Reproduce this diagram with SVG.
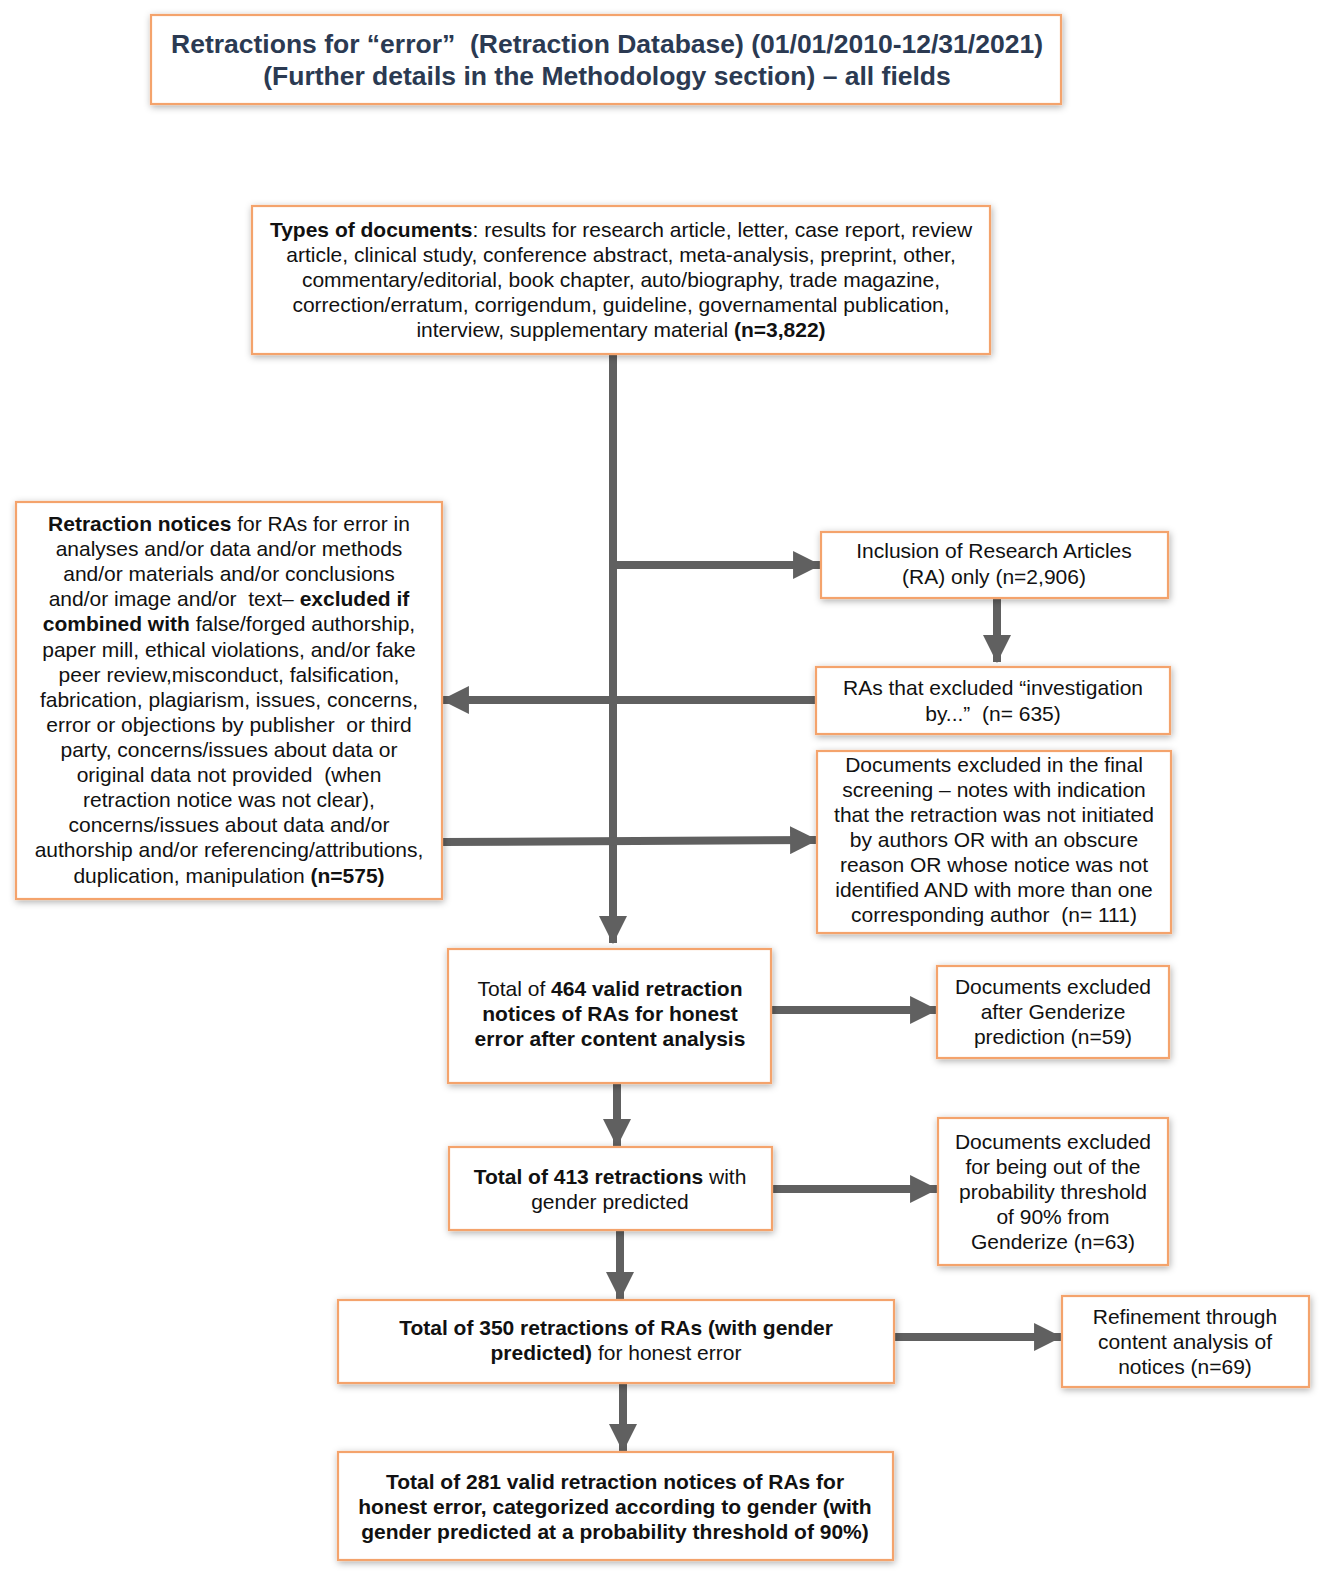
<svg xmlns="http://www.w3.org/2000/svg" width="1325" height="1575" viewBox="0 0 1325 1575">
<defs>
<filter id="sh" x="-10%" y="-10%" width="120%" height="130%">
<feDropShadow dx="1" dy="2" stdDeviation="3.5" flood-color="#000" flood-opacity="0.32"/>
</filter>
<marker id="ah" markerUnits="userSpaceOnUse" markerWidth="28" markerHeight="28" viewBox="0 0 26 26" refX="25" refY="13" orient="auto">
<path d="M0,0 L26,13 L0,26 Z" fill="#606060"/>
</marker>
<style>
.box{fill:#fff;stroke:#f4a36c;stroke-width:2.2;filter:url(#sh)}
text{white-space:pre}
.t{font-family:"Liberation Sans",Arial,sans-serif;font-size:21px;fill:#111;text-anchor:middle}
.b{font-weight:bold}
.title{font-family:"Liberation Sans",Arial,sans-serif;font-size:26.5px;font-weight:bold;fill:#2b3a52;text-anchor:middle}
.ca{fill:none;stroke:#606060;stroke-width:8;marker-end:url(#ah)}
</style>
</defs>
<rect width="1325" height="1575" fill="#fff"/>

<g id="connectors">
<line class="ca" x1="613" y1="355" x2="613" y2="943"/>
<line class="ca" x1="613" y1="565" x2="820" y2="565"/>
<line class="ca" x1="997" y1="598" x2="997" y2="662"/>
<line class="ca" x1="816" y1="700" x2="442" y2="700"/>
<line class="ca" x1="442" y1="842" x2="817" y2="840"/>
<line class="ca" x1="771" y1="1010" x2="937" y2="1010"/>
<line class="ca" x1="617" y1="1083" x2="617" y2="1146"/>
<line class="ca" x1="772" y1="1189" x2="937" y2="1189"/>
<line class="ca" x1="620" y1="1230" x2="620" y2="1299"/>
<line class="ca" x1="894" y1="1337" x2="1061" y2="1337"/>
<line class="ca" x1="623" y1="1383" x2="623" y2="1451"/>
</g>

<g id="title">
<rect class="box" x="151" y="15" width="910" height="89"/>
<text class="title" x="607" y="53" xml:space="preserve">Retractions for “error”  (Retraction Database) (01/01/2010-12/31/2021)</text>
<text class="title" x="607" y="85">(Further details in the Methodology section) – all fields</text>
</g>

<g id="types">
<rect class="box" x="252" y="206" width="738" height="148"/>
<text class="t" x="621" y="237"><tspan class="b">Types of documents</tspan>: results for research article, letter, case report, review</text>
<text class="t" x="621" y="262">article, clinical study, conference abstract, meta-analysis, preprint, other,</text>
<text class="t" x="621" y="287">commentary/editorial, book chapter, auto/biography, trade magazine,</text>
<text class="t" x="621" y="312">correction/erratum, corrigendum, guideline, governamental publication,</text>
<text class="t" x="621" y="337">interview, supplementary material <tspan class="b">(n=3,822)</tspan></text>
</g>

<g id="inclusion">
<rect class="box" x="821" y="532" width="347" height="66"/>
<text class="t" x="994" y="558">Inclusion of Research Articles</text>
<text class="t" x="994" y="584">(RA) only (n=2,906)</text>
</g>

<g id="ras-excluded">
<rect class="box" x="816" y="667" width="354" height="67"/>
<text class="t" x="993" y="695">RAs that excluded “investigation</text>
<text class="t" x="993" y="721" xml:space="preserve">by...”  (n= 635)</text>
</g>

<g id="retraction-notices">
<rect class="box" x="16" y="502" width="426" height="397"/>
<text class="t" x="229" y="531"><tspan class="b">Retraction notices</tspan> for RAs for error in</text>
<text class="t" x="229" y="556">analyses and/or data and/or methods</text>
<text class="t" x="229" y="581">and/or materials and/or conclusions</text>
<text class="t" x="229" y="606" xml:space="preserve">and/or image and/or  text– <tspan class="b">excluded if</tspan></text>
<text class="t" x="229" y="631"><tspan class="b">combined with</tspan> false/forged authorship,</text>
<text class="t" x="229" y="657">paper mill, ethical violations, and/or fake</text>
<text class="t" x="229" y="682">peer review,misconduct, falsification,</text>
<text class="t" x="229" y="707">fabrication, plagiarism, issues, concerns,</text>
<text class="t" x="229" y="732" xml:space="preserve">error or objections by publisher  or third</text>
<text class="t" x="229" y="757">party, concerns/issues about data or</text>
<text class="t" x="229" y="782" xml:space="preserve">original data not provided  (when</text>
<text class="t" x="229" y="807">retraction notice was not clear),</text>
<text class="t" x="229" y="832">concerns/issues about data and/or</text>
<text class="t" x="229" y="857">authorship and/or referencing/attributions,</text>
<text class="t" x="229" y="883">duplication, manipulation <tspan class="b">(n=575)</tspan></text>
</g>

<g id="final-screening">
<rect class="box" x="817" y="751" width="354" height="182"/>
<text class="t" x="994" y="772">Documents excluded in the final</text>
<text class="t" x="994" y="797">screening – notes with indication</text>
<text class="t" x="994" y="822">that the retraction was not initiated</text>
<text class="t" x="994" y="847">by authors OR with an obscure</text>
<text class="t" x="994" y="872">reason OR whose notice was not</text>
<text class="t" x="994" y="897">identified AND with more than one</text>
<text class="t" x="994" y="922" xml:space="preserve">corresponding author  (n= 111)</text>
</g>

<g id="total-464">
<rect class="box" x="448" y="949" width="323" height="134"/>
<text class="t" x="610" y="996">Total of <tspan class="b">464 valid retraction</tspan></text>
<text class="t b" x="610" y="1021">notices of RAs for honest</text>
<text class="t b" x="610" y="1046">error after content analysis</text>
</g>

<g id="after-genderize">
<rect class="box" x="937" y="966" width="232" height="92"/>
<text class="t" x="1053" y="994">Documents excluded</text>
<text class="t" x="1053" y="1019">after Genderize</text>
<text class="t" x="1053" y="1044">prediction (n=59)</text>
</g>

<g id="total-413">
<rect class="box" x="449" y="1147" width="323" height="83"/>
<text class="t" x="610" y="1184"><tspan class="b">Total of 413 retractions</tspan> with</text>
<text class="t" x="610" y="1209">gender predicted</text>
</g>

<g id="probability-threshold">
<rect class="box" x="938" y="1118" width="230" height="147"/>
<text class="t" x="1053" y="1149">Documents excluded</text>
<text class="t" x="1053" y="1174">for being out of the</text>
<text class="t" x="1053" y="1199">probability threshold</text>
<text class="t" x="1053" y="1224">of 90% from</text>
<text class="t" x="1053" y="1249">Genderize (n=63)</text>
</g>

<g id="total-350">
<rect class="box" x="338" y="1300" width="556" height="83"/>
<text class="t b" x="616" y="1335">Total of 350 retractions of RAs (with gender</text>
<text class="t" x="616" y="1360"><tspan class="b">predicted)</tspan> for honest error</text>
</g>

<g id="refinement">
<rect class="box" x="1062" y="1296" width="247" height="91"/>
<text class="t" x="1185" y="1324">Refinement through</text>
<text class="t" x="1185" y="1349">content analysis of</text>
<text class="t" x="1185" y="1374">notices (n=69)</text>
</g>

<g id="total-281">
<rect class="box" x="338" y="1452" width="555" height="108"/>
<text class="t b" x="615" y="1489">Total of 281 valid retraction notices of RAs for</text>
<text class="t b" x="615" y="1514">honest error, categorized according to gender (with</text>
<text class="t b" x="615" y="1539">gender predicted at a probability threshold of 90%)</text>
</g>
</svg>
